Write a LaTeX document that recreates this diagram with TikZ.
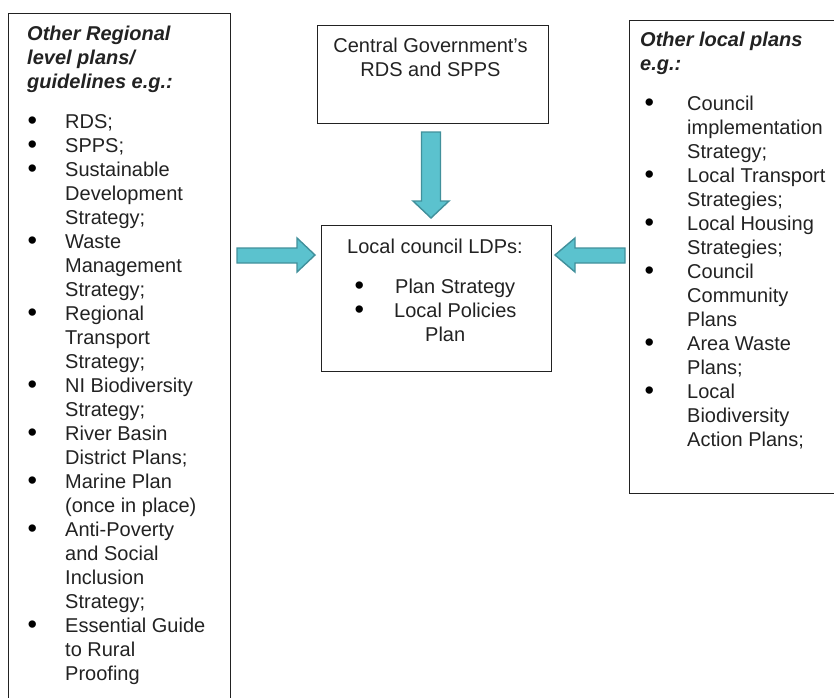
\documentclass[tikz,border=0pt]{standalone}
\usepackage{fontspec}
\setmainfont{Liberation Sans}
\definecolor{arrfill}{HTML}{5BC2CE}
\definecolor{arrline}{HTML}{41909B}
\definecolor{ink}{HTML}{222222}
\newcommand\mybul[1]{\makebox[#1][l]{\hspace{-0.5pt}\color{black}\smash{\raisebox{-1pt}{\fontsize{27}{24}\selectfont\textbullet}}}}
\begin{document}
\begin{tikzpicture}[x=1pt,y=-1pt,
  box/.style={draw=ink, line width=1pt, rectangle, inner sep=0pt, anchor=north west},
  txt/.style={inner sep=0pt, anchor=base west, text=ink, font=\fontsize{20}{24}\selectfont},
  ttl/.style={txt, font=\fontsize{20}{24}\selectfont\bfseries\itshape},
  blockarrow/.style={fill=arrfill, draw=arrline, line width=1.4pt, line join=miter}]
\useasboundingbox (0,0) rectangle (834,697);
\clip (0,0) rectangle (834,697);
% boxes
\node[box, minimum width=222pt, minimum height=700pt] (left) at (8,13) {};
\node[box, minimum width=231pt, minimum height=98pt] (cg) at (317,25) {};
\node[box, minimum width=230pt, minimum height=146pt] (ldp) at (321,225) {};
\node[box, minimum width=230pt, minimum height=473pt] (right) at (629,20) {};
% left box text
\node[ttl] (lt) at (27,40) {\begin{tabular}[t]{@{}l@{}}Other Regional\\level plans/\\guidelines e.g.:\end{tabular}};
\node[txt] (ll) at (28,128) {\begin{tabular}[t]{@{}l@{}}
\mybul{37pt}RDS;\\
\mybul{37pt}SPPS;\\
\mybul{37pt}Sustainable\\
\hspace*{37pt}Development\\
\hspace*{37pt}Strategy;\\
\mybul{37pt}Waste\\
\hspace*{37pt}Management\\
\hspace*{37pt}Strategy;\\
\mybul{37pt}Regional\\
\hspace*{37pt}Transport\\
\hspace*{37pt}Strategy;\\
\mybul{37pt}NI Biodiversity\\
\hspace*{37pt}Strategy;\\
\mybul{37pt}River Basin\\
\hspace*{37pt}District Plans;\\
\mybul{37pt}Marine Plan\\
\hspace*{37pt}(once in place)\\
\mybul{37pt}Anti-Poverty\\
\hspace*{37pt}and Social\\
\hspace*{37pt}Inclusion\\
\hspace*{37pt}Strategy;\\
\mybul{37pt}Essential Guide\\
\hspace*{37pt}to Rural\\
\hspace*{37pt}Proofing
\end{tabular}};
% central government text
\node[txt, anchor=base] (cgt) at (430.5,52.6) {\begin{tabular}[t]{@{}c@{}}Central Government’s\\RDS and SPPS\end{tabular}};
% LDP text
\node[txt] (ldph) at (347,253.6) {Local council LDPs:};
\node[txt] (ldpl) at (355,293.6) {\begin{tabular}[t]{@{}l@{}}
\mybul{40pt}Plan Strategy\\
\mybul{39pt}Local Policies\\
\hspace*{70pt}Plan
\end{tabular}};
% right box text
\node[ttl] (rt) at (640,46) {\begin{tabular}[t]{@{}l@{}}Other local plans\\e.g.:\end{tabular}};
\node[txt] (rl) at (645,110) {\begin{tabular}[t]{@{}l@{}}
\mybul{42pt}Council\\
\hspace*{42pt}implementation\\
\hspace*{42pt}Strategy;\\
\mybul{42pt}Local Transport\\
\hspace*{42pt}Strategies;\\
\mybul{42pt}Local Housing\\
\hspace*{42pt}Strategies;\\
\mybul{42pt}Council\\
\hspace*{42pt}Community\\
\hspace*{42pt}Plans\\
\mybul{42pt}Area Waste\\
\hspace*{42pt}Plans;\\
\mybul{42pt}Local\\
\hspace*{42pt}Biodiversity\\
\hspace*{42pt}Action Plans;
\end{tabular}};
% block arrows
\draw[blockarrow] (421.5,132) -- (440.5,132) -- (440.5,201) -- (449,201) -- (431,218) -- (413,201) -- (421.5,201) -- cycle;
\draw[blockarrow] (237,248) -- (297,248) -- (297,238) -- (315,255) -- (297,272) -- (297,263) -- (237,263) -- cycle;
\draw[blockarrow] (625,248) -- (575,248) -- (575,238) -- (555,255) -- (575,272) -- (575,263) -- (625,263) -- cycle;
\end{tikzpicture}
\end{document}
